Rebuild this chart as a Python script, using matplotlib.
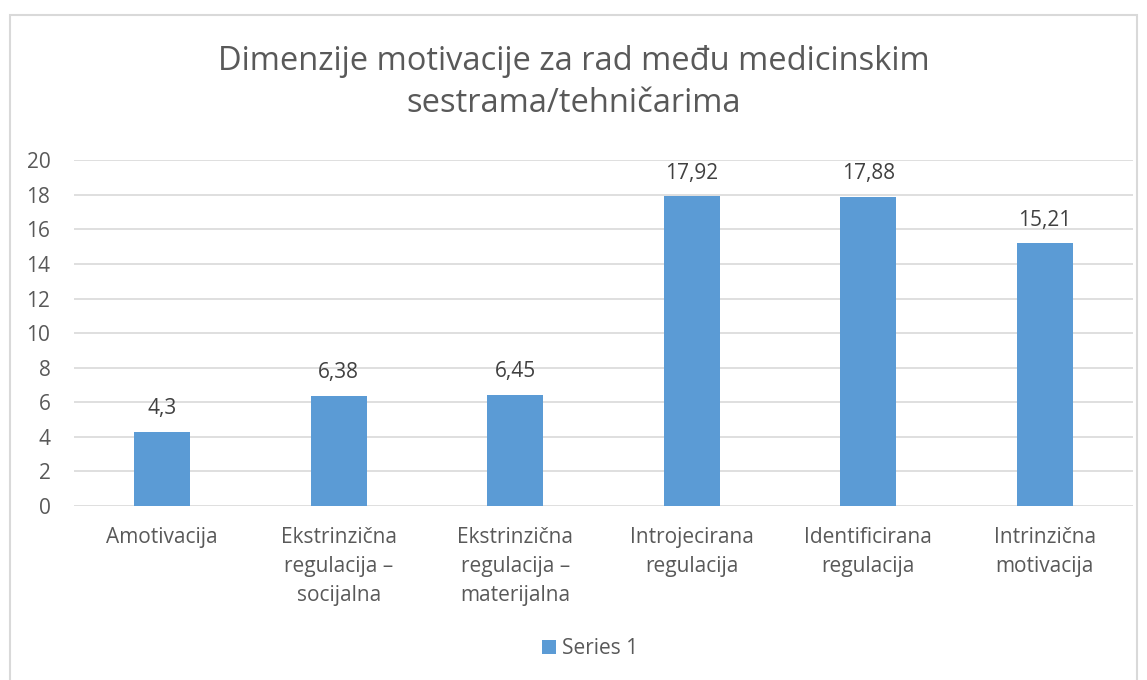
import matplotlib
matplotlib.use("Agg")
import matplotlib.pyplot as plt
from matplotlib.patches import Rectangle

categories = ["Amotivacija", "Ekstrinzična\nregulacija –\nsocijalna", "Ekstrinzična\nregulacija –\nmaterijalna",
              "Introjecirana\nregulacija", "Identificirana\nregulacija", "Intrinzična\nmotivacija"]
values = [4.3, 6.38, 6.45, 17.92, 17.88, 15.21]
labels = ["4,3", "6,38", "6,45", "17,92", "17,88", "15,21"]
yticks = [0, 2, 4, 6, 8, 10, 12, 14, 16, 18, 20]

plt.rcParams['font.family'] = ['Open Sans', 'DejaVu Sans']
txt = "#595959"
bar_color = "#5B9BD5"

W, H = 1147, 680
fig = plt.figure(figsize=(W/100, H/100), dpi=100)

# chart border
fig.patches.append(Rectangle((10/W, -0.05), 1127/W, 1 - 15/H + 0.05, transform=fig.transFigure,
                             fill=False, edgecolor="#D9D9D9", linewidth=1.5))

ax = fig.add_axes([74/W, (H-506)/H, 1059/W, (506-160.3)/H])
x = range(len(categories))
bars = ax.bar(x, values, width=0.316, color=bar_color, label="Series 1", zorder=3)
for xi, v, lab in zip(x, values, labels):
    ax.annotate(lab, (xi, v), xytext=(0, 9), textcoords="offset points", ha="center", va="bottom",
                fontsize=15, color="#404040")

ax.set_xlim(-0.5, len(categories) - 0.5)
ax.set_ylim(0, 20)
ax.set_yticks(yticks)
ax.set_yticklabels([str(t) for t in yticks])
ax.yaxis.grid(True, color="#D9D9D9", linewidth=1.2, zorder=0)
ax.set_axisbelow(True)
for s in ax.spines.values():
    s.set_visible(False)
ax.tick_params(axis="both", length=0, labelsize=15, labelcolor=txt)
ax.tick_params(axis="y", pad=17)
ax.tick_params(axis="x", pad=15)
ax.set_xticks(list(x))
ax.set_xticklabels(categories, linespacing=1.5)

fig.text(0.5, 1 - 82/H, "Dimenzije motivacije za rad među medicinskim\nsestrama/tehničarima",
         ha="center", va="center", fontsize=23.5, color=txt, linespacing=1.36)

fig.legend(handles=[bars], labels=["Series 1"], loc="center", bbox_to_anchor=(590/W, 1 - 649/H),
           frameon=False, fontsize=15, labelcolor=txt, handlelength=0.65, handleheight=0.65,
           handletextpad=0.3)

fig.savefig("out.png", dpi=100)
